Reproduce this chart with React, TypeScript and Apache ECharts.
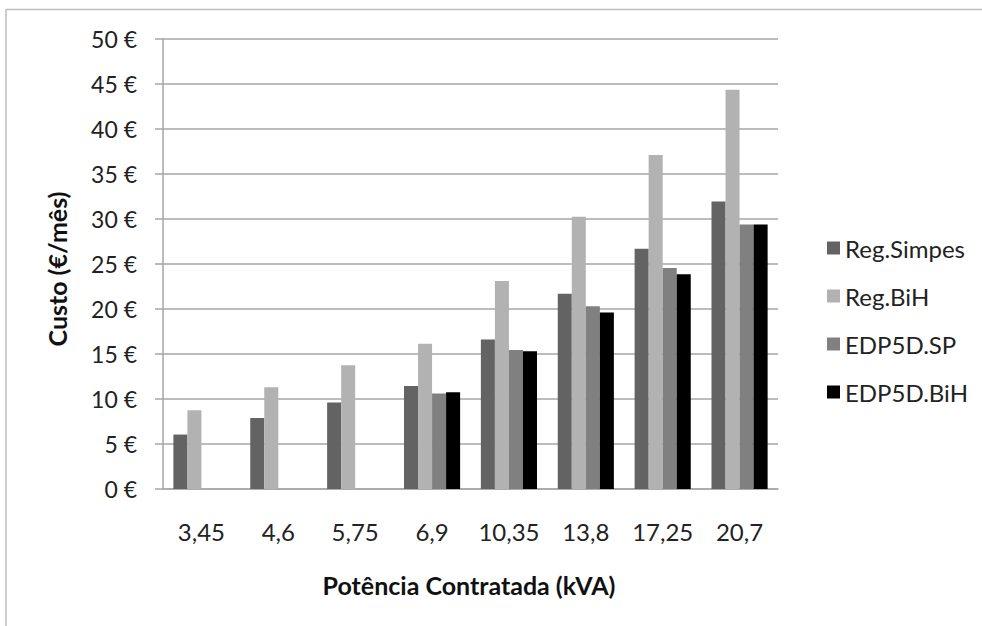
import React, { useEffect, useRef } from "react";
import * as echarts from "echarts";

const categories = ["3,45", "4,6", "5,75", "6,9", "10,35", "13,8", "17,25", "20,7"];
const regSimpes = [6.05, 7.9, 9.6, 11.45, 16.6, 21.7, 26.7, 31.95];
const regBiH = [8.75, 11.3, 13.75, 16.15, 23.1, 30.25, 37.1, 44.35];
const edpSP = [null, null, null, 10.6, 15.45, 20.3, 24.55, 29.4];
const edpBiH = [null, null, null, 10.75, 15.3, 19.6, 23.85, 29.4];
const yTicks = [0, 5, 10, 15, 20, 25, 30, 35, 40, 45, 50];

const FONT = "Lato";

export default function App() {
  const ref = useRef<HTMLDivElement>(null);
  useEffect(() => {
    const chart = echarts.init(ref.current!, null, { renderer: "svg" });
    const mk = (name: string, data: any[], color: string) => ({
      name,
      type: "bar",
      data,
      barGap: "0%",
      barCategoryGap: "27%",
      itemStyle: { color },
    });
    chart.setOption({
      animation: false,
      backgroundColor: "#ffffff",
      textStyle: { fontFamily: FONT },
      grid: { left: 163, right: 204, top: 39, bottom: 137 },
      legend: {
        orient: "vertical",
        left: 822,
        top: 231,
        itemWidth: 13,
        itemHeight: 13,
        itemGap: 24,
        icon: "rect",
        textStyle: { fontFamily: FONT, fontSize: 24, color: "#222", lineHeight: 24 },
        data: ["Reg.Simpes", "Reg.BiH", "EDP5D.SP", "EDP5D.BiH"],
      },
      xAxis: {
        type: "category",
        data: categories,
        axisLine: { lineStyle: { color: "#a6a6a6", width: 1.5 } },
        axisTick: { show: false },
        axisLabel: { margin: 30, fontSize: 24, color: "#222", fontFamily: FONT, interval: 0 },
      },
      yAxis: {
        type: "value",
        min: yTicks[0],
        max: yTicks[yTicks.length - 1],
        interval: 5,
        axisLine: { show: true, lineStyle: { color: "#a6a6a6", width: 1.5 } },
        axisTick: { show: true, length: 8, lineStyle: { color: "#a6a6a6", width: 1.5 } },
        splitLine: { lineStyle: { color: "#a6a6a6", width: 1.5 } },
        axisLabel: {
          margin: 26,
          fontSize: 23,
          color: "#222",
          fontFamily: FONT,
          formatter: (v: number) => `${v} €`,
        },
      },
      graphic: [
        {
          type: "line",
          shape: { x1: 6, y1: 9.5, x2: 1100, y2: 9.5 },
          style: { stroke: "#bdbdbd", lineWidth: 1.5 },
          silent: true,
        },
        {
          type: "line",
          shape: { x1: 6, y1: 9.5, x2: 6, y2: 800 },
          style: { stroke: "#bdbdbd", lineWidth: 1.5 },
          silent: true,
        },
        {
          type: "text",
          x: 57,
          y: 269,
          rotation: Math.PI / 2,
          style: {
            text: "Custo (€/mês)",
            fontFamily: FONT,
            fontSize: 25,
            fontWeight: "bold",
            fill: "#111",
            align: "center",
            verticalAlign: "middle",
          },
        },
        {
          type: "text",
          x: 469,
          y: 585,
          style: {
            text: "Potência Contratada (kVA)",
            fontFamily: FONT,
            fontSize: 25,
            fontWeight: "bold",
            fill: "#111",
            align: "center",
            verticalAlign: "middle",
          },
        },
      ],
      series: [
        mk("Reg.Simpes", regSimpes, "#636363"),
        mk("Reg.BiH", regBiH, "#b2b2b2"),
        mk("EDP5D.SP", edpSP, "#808080"),
        mk("EDP5D.BiH", edpBiH, "#000000"),
      ],
    });
    return () => chart.dispose();
  }, []);
  return (
    <div
      ref={ref}
      style={{ position: "fixed", left: 0, top: 0, width: 982, height: 626 }}
    />
  );
}
